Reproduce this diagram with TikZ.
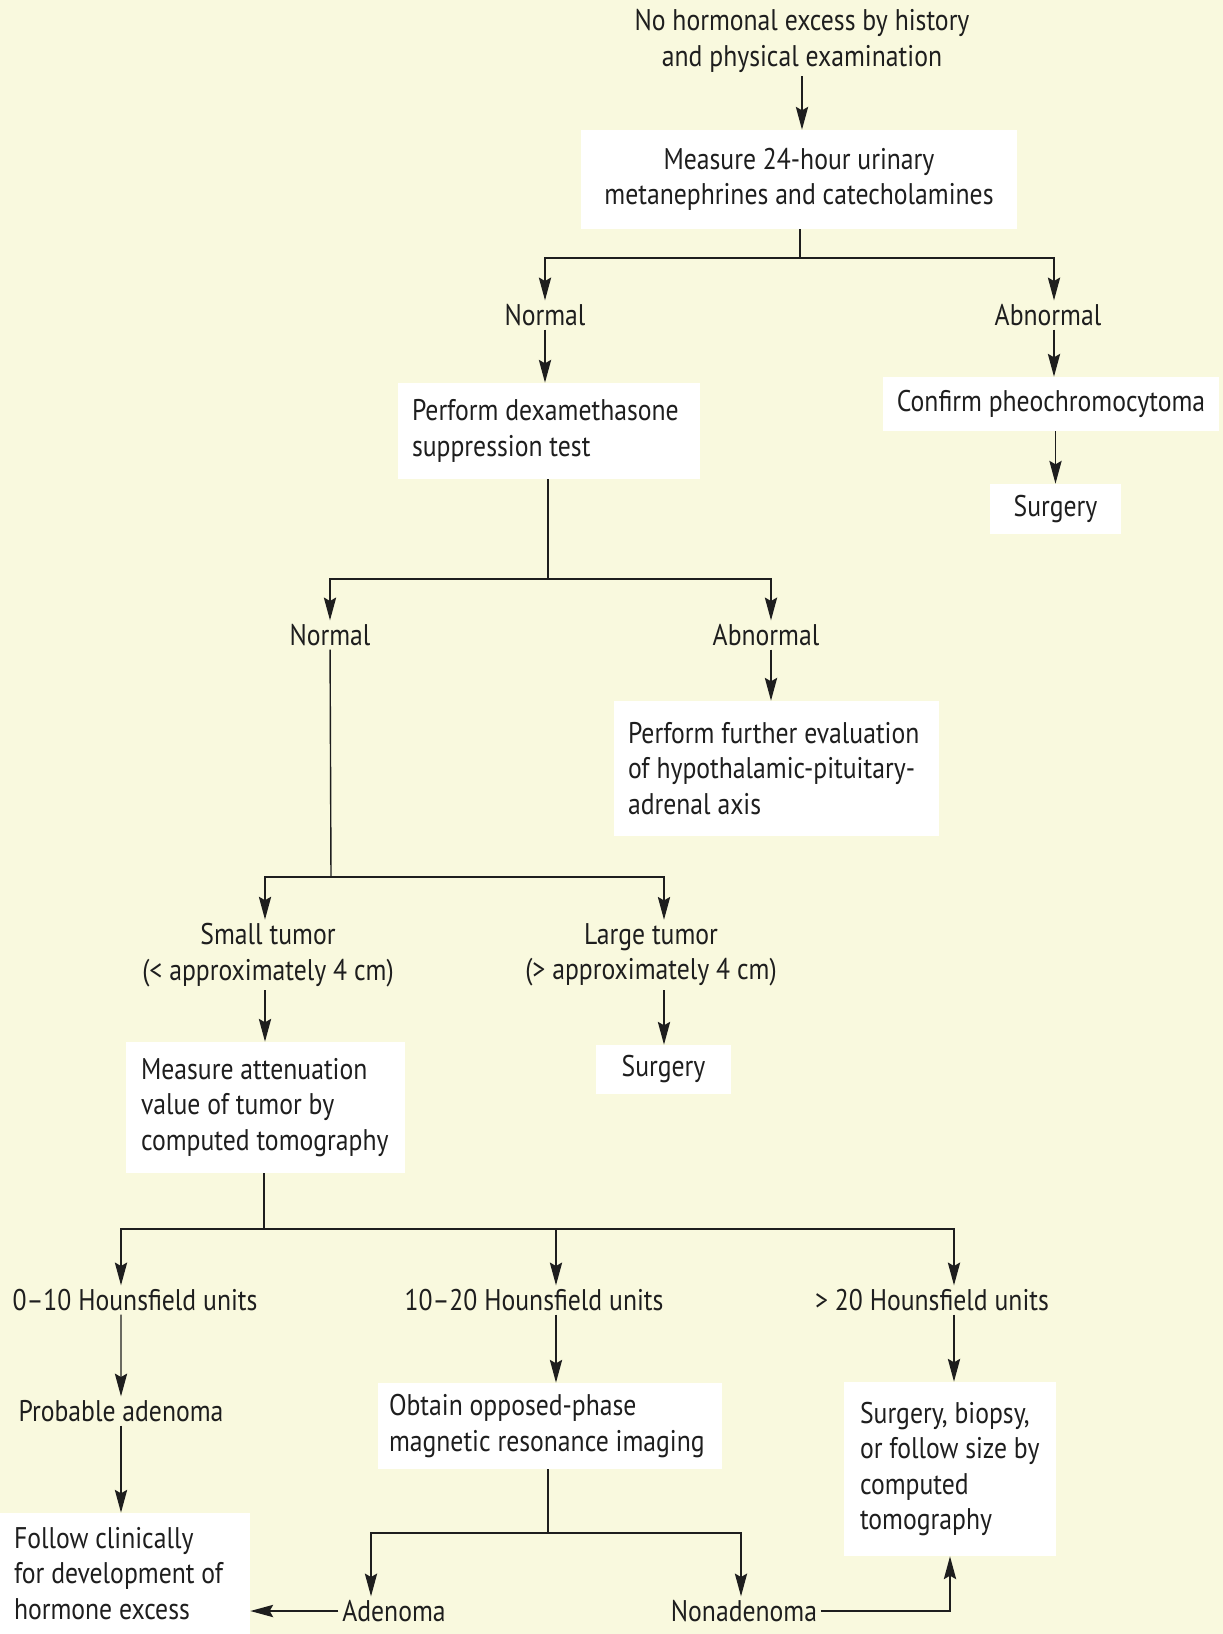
\documentclass[tikz,border=0pt]{standalone}
\usepackage{fontspec}
\setmainfont[FakeStretch=0.86]{PT Sans}
\usetikzlibrary{arrows.meta,positioning}

\definecolor{paper}{RGB}{249,249,222}
\definecolor{ink}{RGB}{30,30,30}

\tikzset{
  arr/.style={draw=ink, line width=0.8pt, -{Stealth[length=13pt,width=7pt,inset=2pt]}},
  link/.style={draw=ink, line width=0.8pt},
  lbl/.style={text=ink, inner sep=2pt, align=center},
  cbox/.style={fill=white, text=ink, inner sep=0pt, align=center},
  lbox/.style={fill=white, text=ink, inner ysep=0pt, align=flush left},
}

\begin{document}
\begin{tikzpicture}[x=0.02cm, y=-0.02cm, font=\fontsize{17}{20.1}\selectfont]

\fill[paper] (0,0) rectangle (1223,1634);
\useasboundingbox (0,0) rectangle (1223,1634);

% first step
\node[lbl] (start) at (802,41) {No hormonal excess by history\\and physical examination};
\node[cbox, minimum width=8.72cm, minimum height=1.98cm] (meas) at (799,179.5) {Measure 24-hour urinary\\metanephrines and catecholamines};

\node[lbl] (nA) at (545,315) {Normal};
\node[lbl] (abA) at (1048,315) {Abnormal};
\node[lbox, text width=5.48cm, inner xsep=0.28cm, minimum height=1.92cm] (dexa) at (549,431) {Perform dexamethasone\\suppression test};
\node[cbox, minimum width=6.72cm, minimum height=1.08cm] (pheo) at (1051,404) {Confirm pheochromocytoma};
\node[cbox, minimum width=2.62cm, minimum height=1.0cm] (surgA) at (1055.5,509) {Surgery};

% dexamethasone branch
\node[lbl] (nB) at (330,635) {Normal};
\node[lbl] (abB) at (766,635) {Abnormal};
\node[lbox, text width=5.94cm, inner xsep=0.28cm, minimum height=2.7cm] (hpa) at (776.5,768.5) {Perform further evaluation\\of hypothalamic-pituitary-\\adrenal axis};

% tumor size
\node[lbl] (small) at (268,955) {Small tumor\\(< approximately 4 cm)};
\node[lbl] (large) at (651,955) {Large tumor\\(> approximately 4 cm)};
\node[lbox, text width=4.98cm, inner xsep=0.3cm, minimum height=2.62cm] (atten) at (265.5,1107.5) {Measure attenuation\\value of tumor by\\computed tomography};
\node[cbox, minimum width=2.7cm, minimum height=0.98cm] (surgB) at (663.5,1069.5) {Surgery};

% attenuation values
\node[lbl] (hua) at (135,1300) {0--10 Hounsfield units};
\node[lbl] (hub) at (534,1300) {10--20 Hounsfield units};
\node[lbl] (huc) at (932,1300) {> 20 Hounsfield units};
\node[lbl] (prob) at (121,1411) {Probable adenoma};
\node[lbox, text width=6.44cm, inner xsep=0.22cm, minimum height=1.72cm] (mri) at (550,1426) {Obtain opposed-phase\\magnetic resonance imaging};
\node[lbox, text width=3.6cm, inner xsep=0.32cm, minimum height=3.48cm] (opts) at (950,1469) {Surgery, biopsy,\\or follow size by\\computed\\tomography};
\node[lbox, text width=4.44cm, inner xsep=0.28cm, minimum height=2.42cm] (follow) at (125,1573.5) {Follow clinically\\for development of\\hormone excess};
\node[lbl] (aden) at (394,1611) {Adenoma};
\node[lbl] (nonad) at (744,1611) {Nonadenoma};

% junctions
\coordinate (jA) at (800,258);
\coordinate (jB) at (548,579);
\coordinate (jC) at (331,877);
\coordinate (jD) at (264,1229);
\coordinate (jE) at (548,1533);

% connectors
\draw[arr] (start) -- (start |- meas.north);
\draw[link] (meas.south -| jA) -- (jA);
\draw[arr] (jA) -| (nA);
\draw[arr] (jA) -| ([xshift=0.12cm]abA.north);
\draw[arr] (nA) -- (nA |- dexa.north);
\draw[arr] ([xshift=0.12cm]abA.south) -- ([xshift=0.12cm]abA.south |- pheo.north);
\draw[arr] (surgA.north |- pheo.south) -- (surgA);

\draw[link] (dexa.south -| jB) -- (jB);
\draw[arr] (jB) -| (nB);
\draw[arr] (jB) -| ([xshift=0.1cm]abB.north);
\draw[arr] ([xshift=0.1cm]abB.south) -- ([xshift=0.1cm]abB.south |- hpa.north);

\draw[link] (nB) -- (jC);
\draw[arr] (jC) -| ([xshift=-0.06cm]small.north);
\draw[arr] (jC) -| ([xshift=0.26cm]large.north);
\draw[arr] ([xshift=-0.06cm]small.south) -- ([xshift=-0.06cm]small.south |- atten.north);
\draw[arr] ([xshift=0.26cm]large.south) -- ([xshift=0.26cm]large.south |- surgB.north);

\draw[link] (atten.south -| jD) -- (jD);
\draw[arr] (jD) -| ([xshift=-0.28cm]hua.north);
\draw[arr] (jD) -| ([xshift=0.44cm]hub.north);
\draw[arr] (jD) -| ([xshift=0.44cm]huc.north);
\draw[arr] ([xshift=-0.28cm]hua.south) -- (prob);
\draw[arr] ([xshift=0.44cm]hub.south) -- ([xshift=0.44cm]hub.south |- mri.north);
\draw[arr] ([xshift=0.44cm]huc.south) -- ([xshift=0.44cm]huc.south |- opts.north);
\draw[arr] (prob) -- (prob |- follow.north);

\draw[link] (mri.south -| jE) -- (jE);
\draw[arr] (jE) -| ([xshift=-0.46cm]aden.north);
\draw[arr] (jE) -| ([xshift=-0.06cm]nonad.north);
\draw[arr] (aden) -- (aden -| follow.east);
\draw[arr] (nonad) -| (opts);

\end{tikzpicture}
\end{document}
